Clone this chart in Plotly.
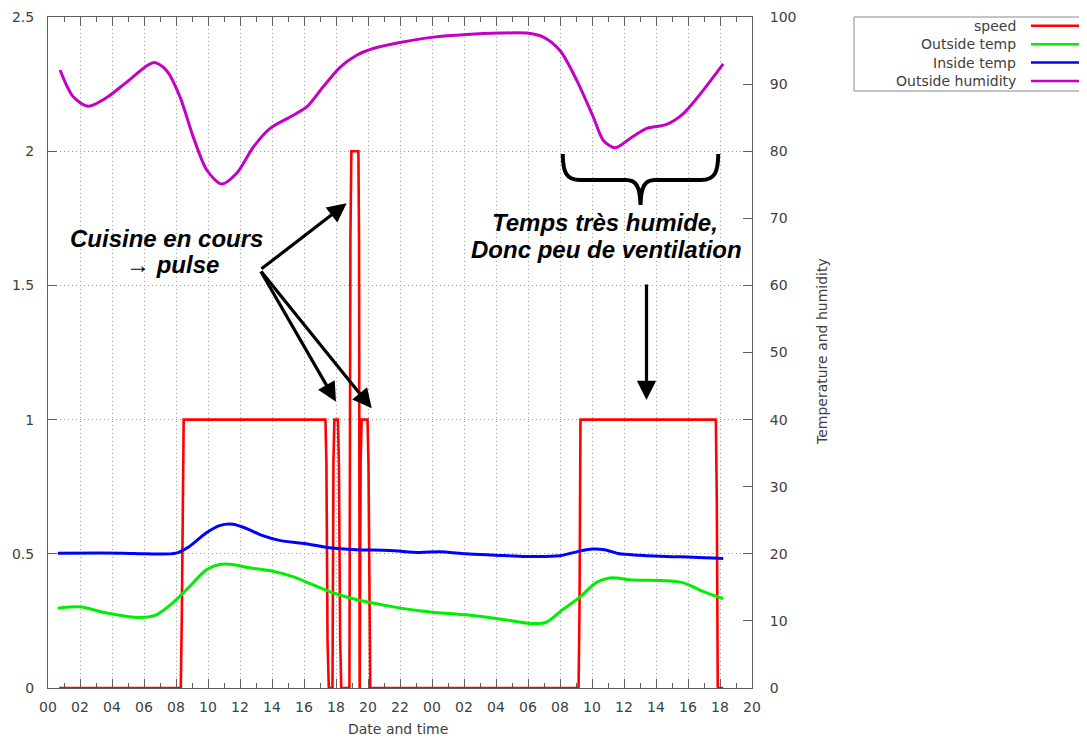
import plotly.graph_objects as go

# ---------------- data ----------------
# time in hours since 00:00 of the first day
speed_t = [0.70, 8.30, 8.36, 8.42, 8.48, 17.34, 17.40, 17.47, 17.55, 17.78, 17.84, 17.90,
           18.12, 18.18, 18.26, 18.33, 18.84, 18.90, 18.96, 19.40, 19.44, 19.48, 19.54,
           19.60, 19.97, 20.03, 20.09, 20.14, 33.16, 33.22, 33.28, 41.74, 41.80, 41.86, 42.20]
speed_v = [0, 0, 0.25, 0.75, 1, 1, 0.84, 0.18, 0, 0, 0.84, 1,
           1, 0.84, 0.18, 0, 0, 1.67, 2, 2, 1.67, 0, 0.84,
           1, 1, 0.84, 0.18, 0, 0, 0.3, 1, 1, 0.7, 0, 0]

out_temp_t = [0.61, 1.97, 3.64, 5.72, 6.77, 7.80, 8.84, 9.88, 10.72, 11.55, 12.38, 14.05,
              15.30, 16.55, 17.80, 19.26, 21.34, 23.20, 24.05, 26.14, 28.22, 30.30, 31.14,
              32.18, 33.22, 34.26, 35.10, 36.55, 38.64, 39.68, 40.93, 42.20]
out_temp_v = [11.9, 12.1, 11.2, 10.5, 10.9, 12.7, 15.1, 17.6, 18.4, 18.4, 18.0, 17.4,
              16.6, 15.4, 14.2, 13.2, 12.2, 11.5, 11.3, 10.9, 10.3, 9.6, 9.8,
              11.7, 13.5, 15.7, 16.4, 16.1, 16.0, 15.7, 14.4, 13.3]

in_temp_t = [0.61, 4.67, 6.13, 8.00, 8.84, 9.88, 10.72, 11.55, 12.38, 13.42, 14.47, 16.13,
             17.59, 19.26, 21.34, 23.20, 24.47, 26.14, 28.00, 29.88, 31.97, 33.22, 34.05,
             34.78, 35.72, 36.97, 38.64, 40.30, 42.20]
in_temp_v = [20.1, 20.1, 20.0, 20.1, 21.1, 23.1, 24.2, 24.4, 23.8, 22.7, 22.0, 21.5,
             20.9, 20.6, 20.5, 20.2, 20.3, 20.0, 19.8, 19.6, 19.7, 20.4, 20.7,
             20.6, 20.0, 19.8, 19.6, 19.5, 19.3]

hum_t = [0.75, 1.58, 2.52, 3.67, 4.92, 6.58, 7.42, 8.25, 9.08, 9.92, 10.85, 11.79, 12.83,
         13.88, 15.13, 16.17, 17.20, 18.25, 19.29, 20.33, 22.00, 24.08, 26.17, 28.25,
         29.92, 30.96, 32.00, 33.04, 34.08, 34.71, 35.44, 36.38, 37.42, 38.67, 39.71,
         40.96, 42.20]
hum_v = [92.1, 88.1, 86.7, 88.0, 90.3, 93.2, 92.0, 88.1, 82.1, 77.2, 75.1, 76.7, 80.6,
         83.4, 85.1, 86.6, 89.6, 92.5, 94.3, 95.3, 96.2, 97.0, 97.4, 97.6,
         97.6, 97.0, 95.0, 90.6, 85.1, 81.6, 80.5, 81.9, 83.4, 84.0, 85.6,
         89.1, 93.0]

x_tickvals = list(range(0, 45, 2))
x_ticktext = ["00", "02", "04", "06", "08", "10", "12", "14", "16", "18", "20", "22",
              "00", "02", "04", "06", "08", "10", "12", "14", "16", "18", "20"]
y_tickvals = [0, 0.5, 1, 1.5, 2, 2.5]
y_ticktext = ["0", "0.5", "1", "1.5", "2", "2.5"]

series_names = ["speed", "Outside temp", "Inside temp", "Outside humidity"]
series_colors = ["#ff0000", "#00ee00", "#0000ff", "#c400c4"]

# ---------------- layout geometry ----------------
# the page body has an 8px margin, so the figure is drawn 8px in from the corner
OFF = 8
W, H = 1087 - OFF, 740 - OFF
ML, MR, MT, MB = 40, 335, 9, 52
PW, PH = W - ML - MR, H - MT - MB
XMAX, YMAX = 44, 2.5

def xp(px):  # page pixel -> paper x
    return (px - OFF - ML) / PW

def yp(py):  # page pixel -> paper y
    return (H - MB - (py - OFF)) / PH

def dx(px):  # page pixel -> data hours
    return xp(px) * XMAX

def dy(py):  # page pixel -> data speed units
    return yp(py) * YMAX

FONT = "DejaVu Sans"
TXT = "#404040"
AX = "#606060"
GRID = "#9a9a9a"
GDASH = "1px,3px"

fig = go.Figure()
fig.add_trace(go.Scatter(x=speed_t, y=speed_v, mode="lines", name=series_names[0],
                         line=dict(color=series_colors[0], width=2.6), yaxis="y"))
fig.add_trace(go.Scatter(x=out_temp_t, y=out_temp_v, mode="lines", name=series_names[1],
                         line=dict(color=series_colors[1], width=3, shape="spline", smoothing=0.8),
                         yaxis="y2"))
fig.add_trace(go.Scatter(x=in_temp_t, y=in_temp_v, mode="lines", name=series_names[2],
                         line=dict(color=series_colors[2], width=3, shape="spline", smoothing=0.8),
                         yaxis="y2"))
fig.add_trace(go.Scatter(x=hum_t, y=hum_v, mode="lines", name=series_names[3],
                         line=dict(color=series_colors[3], width=3, shape="spline", smoothing=0.8),
                         yaxis="y2"))

fig.update_layout(
    width=W, height=H,
    margin=dict(l=ML, r=MR, t=MT, b=MB, pad=0, autoexpand=False),
    paper_bgcolor="white", plot_bgcolor="white",
    showlegend=False,
    font=dict(family=FONT, size=14, color=TXT),
    xaxis=dict(range=[0, XMAX], tickmode="array", tickvals=x_tickvals, ticktext=x_ticktext,
               ticks="inside", ticklen=9, tickcolor=AX, tickwidth=1, automargin=False,
               minor=dict(tickvals=list(range(1, 44, 2)), ticks="inside", ticklen=5,
                          tickcolor=AX, showgrid=False),
               showline=True, linecolor=AX, linewidth=1, mirror="ticks",
               showgrid=True, gridcolor=GRID, gridwidth=1, griddash=GDASH,
               zeroline=False, ticklabelstandoff=6, layer="below traces"),
    yaxis=dict(range=[0, YMAX], tickmode="array", tickvals=y_tickvals, ticktext=y_ticktext,
               ticks="inside", ticklen=9, tickcolor=AX, automargin=False,
               showline=True, linecolor=AX, linewidth=1,
               showgrid=True, gridcolor=GRID, gridwidth=1, griddash=GDASH,
               zeroline=False, ticklabelstandoff=10, layer="below traces"),
    yaxis2=dict(range=[0, 100], dtick=10, tick0=0, overlaying="y", side="right",
                ticks="inside", ticklen=9, tickcolor=AX, automargin=False,
                showline=True, linecolor=AX, linewidth=1,
                showgrid=False, zeroline=False, ticklabelstandoff=14, layer="below traces"),
)

shapes = []
annotations = []

# axis titles
annotations.append(dict(xref="paper", yref="paper", x=xp(397.5), y=yp(729),
                         text="Date and time", showarrow=False, xanchor="center",
                         yanchor="middle", font=dict(size=14, color=TXT)))
annotations.append(dict(xref="paper", yref="paper", x=xp(822), y=yp(352),
                         text="Temperature and humidity", showarrow=False, textangle=-90,
                         xanchor="center", yanchor="middle", font=dict(size=14, color=TXT)))

# legend (gnuplot style: text right, sample line on the right)
shapes.append(dict(type="rect", xref="paper", yref="paper", x0=xp(854), x1=xp(1085),
                   y0=yp(17), y1=yp(91), line=dict(color="#888888", width=1)))
row_y = [25.7, 44.2, 62.6, 81.0]
for name, col, ry in zip(series_names, series_colors, row_y):
    annotations.append(dict(xref="paper", yref="paper", x=xp(1018), y=yp(ry), text=name,
                            showarrow=False, xanchor="right", yanchor="middle",
                            font=dict(size=14, color=TXT)))
    shapes.append(dict(type="line", xref="paper", yref="paper", x0=xp(1031), x1=xp(1083),
                       y0=yp(ry), y1=yp(ry), line=dict(color=col, width=2.5)))

# text annotations
BI = dict(family="Liberation Sans", size=24, color="black")
for txt, cx, cy in [("<b><i>Cuisine en cours</i></b>", 166, 238),
                    ("<b><i>→ pulse</i></b>", 172, 264),
                    ("<b><i>Temps très humide,</i></b>", 605, 222),
                    ("<b><i>Donc peu de ventilation</i></b>", 606, 249)]:
    annotations.append(dict(xref="x", yref="y", x=dx(cx), y=dy(cy), text=txt,
                            showarrow=False, xanchor="center", yanchor="middle", font=BI))

# arrows
for (tx, ty), (sx, sy) in [((346.7, 203.3), (260, 270)),
                           ((336, 401.7), (260, 270)),
                           ((371.7, 408.3), (260, 270)),
                           ((646.5, 400), (646.5, 283))]:
    annotations.append(dict(xref="x", yref="y", x=dx(tx), y=dy(ty),
                            axref="x", ayref="y", ax=dx(sx), ay=dy(sy), text="",
                            showarrow=True, arrowhead=2, arrowsize=1.2, arrowwidth=3.2,
                            arrowcolor="black"))

# curly brace
def P(px, py):
    return f"{dx(px):.4f},{dy(py):.4f}"

brace = ("M " + P(562.7, 154) +
         " C " + P(563, 172) + " " + P(566, 180) + " " + P(580, 180) +
         " L " + P(626, 180) +
         " C " + P(636, 180) + " " + P(640, 186) + " " + P(640.5, 205) +
         " C " + P(641, 186) + " " + P(645, 180) + " " + P(655, 180) +
         " L " + P(701, 180) +
         " C " + P(715, 180) + " " + P(718, 172) + " " + P(718.3, 154))
shapes.append(dict(type="path", xref="x", yref="y", path=brace,
                   line=dict(color="black", width=4)))

fig.update_layout(shapes=shapes, annotations=annotations)
fig.write_html("out.html")
